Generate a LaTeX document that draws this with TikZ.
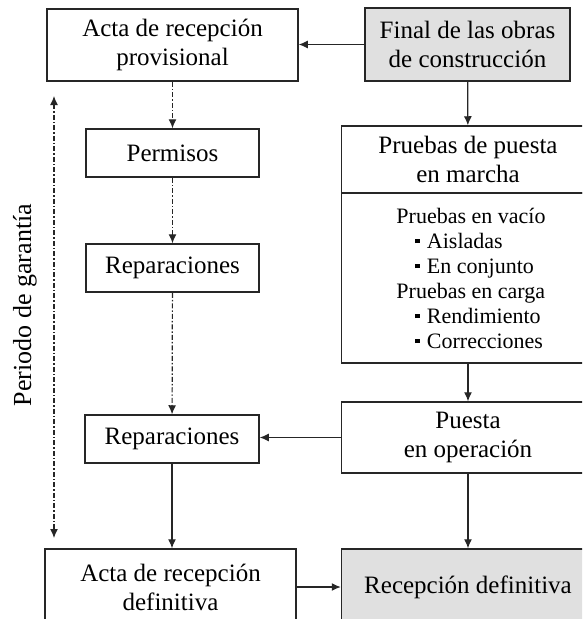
\documentclass[tikz,border=0pt]{standalone}
\usepackage{fontspec}
\setmainfont{Liberation Serif}
\usetikzlibrary{arrows.meta}
\usepackage{xcolor}
\definecolor{grisclaro}{RGB}{224,224,224}
\tikzset{
    RB1/.style ={rectangle, draw=black!85, line width=1.5pt, align=center,
                 font=\fontsize{25}{29}\selectfont, inner sep=0pt},
    RB2/.style ={RB1, fill=grisclaro},
    FL1/.style ={-{Latex[length=9pt,width=8pt]}, line width=1.2pt, draw=black!85},
    FL2/.style ={FL1, dash pattern=on 5pt off 2pt on 1.5pt off 2pt}
}
\newcommand{\vin}{\hspace*{19pt}\rule[5pt]{4.5pt}{4.5pt}\hspace{7pt}}

\begin{document}
\begin{tikzpicture}[x=1pt,y=-1pt]
        \useasboundingbox (0,0) rectangle (582,619);
        \clip (0,0) rectangle (582,619);
        % columna izquierda
        \node[RB1, minimum width=251pt, minimum height=72pt] (actaprov) at (172.5,45) {Acta de recepción\\provisional};
        \node[RB1, minimum width=173pt, minimum height=48pt] (permisos) at (172.5,153) {Permisos};
        \node[RB1, minimum width=173pt, minimum height=48pt] (rep1) at (172.5,268) {Reparaciones};
        \node[RB1, minimum width=174pt, minimum height=48pt] (rep2) at (172,439) {Reparaciones};
        \node[RB1, minimum width=251pt, minimum height=76pt] (actadef) at (170.5,587) {Acta de recepción\\definitiva};
        % columna derecha
        \node[RB2, minimum width=205pt, minimum height=73pt] (final) at (467.5,44.5) {Final de las obras\\de construcción};
        \node[RB1, minimum width=253pt, minimum height=67pt] (pruebas) at (468,159.5) {Pruebas de puesta\\en marcha};
        \node[RB1, minimum width=253pt, minimum height=170pt, align=left,
              font=\fontsize{22}{25}\selectfont] (pruebaslist) at (468,278)
              {\hspace*{6pt}Pruebas en vacío\\
               \hspace*{6pt}\vin Aisladas\\
               \hspace*{6pt}\vin En conjunto\\
               \hspace*{6pt}Pruebas en carga\\
               \hspace*{6pt}\vin Rendimiento\\
               \hspace*{6pt}\vin Correcciones};
        \node[RB1, minimum width=253pt, minimum height=71pt] (puesta) at (468,437.5) {Puesta\\en operación};
        \node[RB2, minimum width=253pt, minimum height=76pt] (recepdef) at (468,587) {Recepción definitiva};
        % periodo de garantia
        \coordinate (gtop) at (54,96);
        \coordinate (gbot) at (54,538);
        \node[rotate=90, font=\fontsize{26}{30}\selectfont] (garantia) at (25,305) {Periodo de garantía};
        \draw[FL2, {Latex[length=9pt,width=8pt]}-{Latex[length=9pt,width=8pt]}] (gtop)--(gbot);
        % flechas
        \draw[FL1](final.west)--(actaprov.east |- final.west);
        \draw[FL1](final)--(pruebas);
        \draw[FL1](pruebaslist)--(puesta);
        \draw[FL1](puesta.west)--(rep2.east |- puesta.west);
        \draw[FL1](puesta)--(recepdef);
        \draw[FL1](rep2)--(actadef.north -| rep2.south);
        \draw[FL1](actadef)--(recepdef);
        \draw[FL2](actaprov)--(permisos);
        \draw[FL2](permisos)--(rep1);
        \draw[FL2](rep1)--(rep2);
    \end{tikzpicture}
\end{document}
